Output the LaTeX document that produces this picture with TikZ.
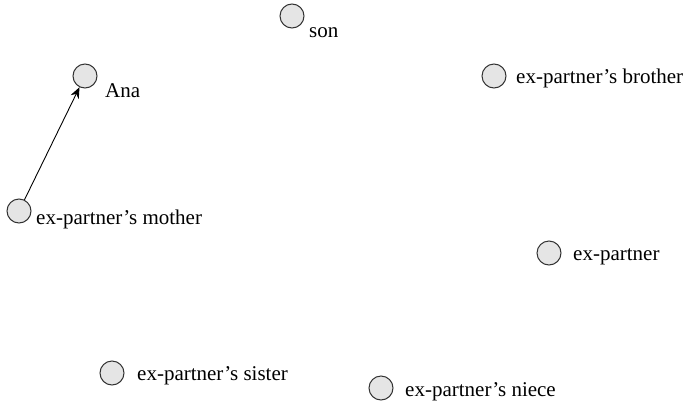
\documentclass[tikz,border=0pt]{standalone}
\usepackage{fontspec}
\setmainfont{Liberation Serif}
\usetikzlibrary{arrows.meta}
\begin{document}
\begin{tikzpicture}[x=1pt,y=-1pt,
  person/.style={circle,draw=black!80,fill=black!10,line width=1pt,minimum size=24pt,inner sep=0pt},
  tag/.style={anchor=base west,inner sep=0pt,font=\fontsize{21}{23}\selectfont},
  link/.style={-{Stealth[length=11pt,width=9pt]},line width=0.9pt}]
\useasboundingbox (0,0) rectangle (685,402);
% people
\node[person] (ana) at (85,76) {};
\node[person] (son) at (292,16) {};
\node[person] (bro) at (494,76) {};
\node[person] (mot) at (19,211) {};
\node[person] (exp) at (549,253) {};
\node[person] (sis) at (112,373) {};
\node[person] (nie) at (381,388) {};
% names
\node[tag] (lana) at (105,97) {Ana};
\node[tag] (lson) at (309,37) {son};
\node[tag] (lbro) at (516,83) {ex-partner’s brother};
\node[tag] (lmot) at (36,224) {ex-partner’s mother};
\node[tag] (lexp) at (573,260) {ex-partner};
\node[tag] (lsis) at (137,380) {ex-partner’s sister};
\node[tag] (lnie) at (405,396) {ex-partner’s niece};
% relation
\draw[link] (mot) -- (ana);
\end{tikzpicture}
\end{document}
